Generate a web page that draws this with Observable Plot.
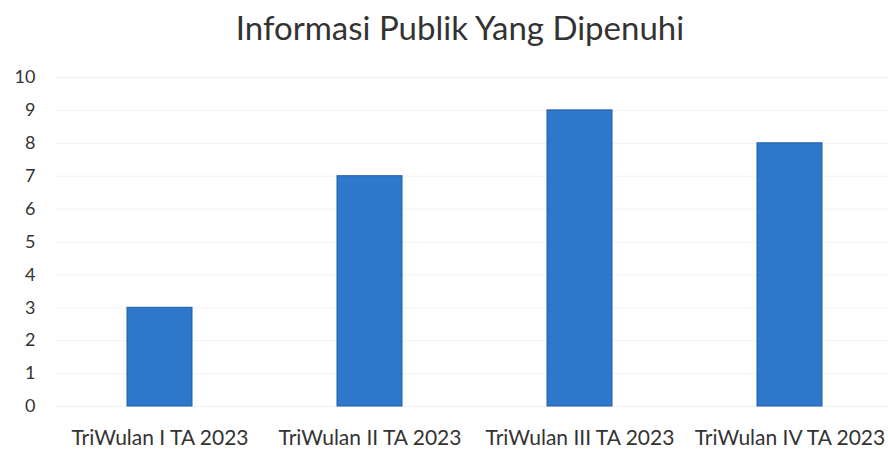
<!DOCTYPE html>
<html>
<head>
<meta charset="utf-8">
<script src="https://cdn.jsdelivr.net/npm/d3@7"></script>
<script src="https://cdn.jsdelivr.net/npm/@observablehq/plot@0.6"></script>
<style>
  body { margin: 0; background: #fff; font-family: Lato, "Open Sans", sans-serif; }
  #title { height: 60px; line-height: 54px; text-align: center; font-size: 33px; color: #333; padding-left: 32px; box-sizing: border-box; width: 888px; }
</style>
</head>
<body>
<div id="title">Informasi Publik Yang Dipenuhi</div>
<div id="chart"></div>
<script>
const categories = ["TriWulan I TA 2023", "TriWulan II TA 2023", "TriWulan III TA 2023", "TriWulan IV TA 2023"];
const values = [3, 7, 9, 8];
const yTicks = [0, 1, 2, 3, 4, 5, 6, 7, 8, 9, 10];

const data = categories.map((c, i) => ({category: c, value: values[i]}));

const chart = Plot.plot({
  width: 888,
  height: 393,
  marginTop: 17,
  marginBottom: 47,
  marginLeft: 55,
  marginRight: 0,
  style: {fontFamily: "Lato, 'Open Sans', sans-serif", fontSize: "17px", color: "#333"},
  x: {domain: categories, range: [55, 895], paddingInner: 0.69, paddingOuter: 0.345, label: null},
  y: {domain: [0, 10], ticks: yTicks, label: null},
  marks: [
    Plot.gridY(yTicks, {stroke: "#f2f2f2", strokeOpacity: 1}),
    Plot.axisY({ticks: yTicks, tickSize: 0, tickPadding: 20, fontSize: 18, label: null}),
    Plot.axisX({tickSize: 0, tickPadding: 24, fontSize: 21, label: null}),
    Plot.barY(data, {x: "category", y: "value", fill: "#2e77cb", stroke: "#1f5ea8", strokeWidth: 1})
  ]
});
document.getElementById("chart").appendChild(chart);
</script>
</body>
</html>
